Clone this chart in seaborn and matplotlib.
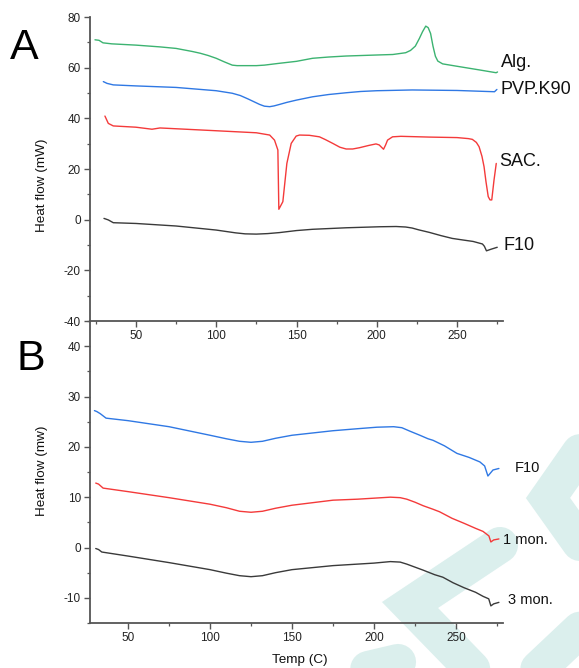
import matplotlib
matplotlib.use("Agg")
import matplotlib.pyplot as plt
from matplotlib.lines import Line2D
from matplotlib.ticker import MultipleLocator
import numpy as np
import pandas as pd
import seaborn as sns

# ─── Panel A : DSC of raw materials and F10 ───
alg_t = [24.5, 27, 29.5, 35, 50, 65, 75, 85, 90, 95, 100, 105, 110, 113, 125, 130, 139, 150, 160, 170, 181,
         200, 210, 218, 221, 224, 226.5, 228.5, 230.5, 232, 233.5, 235, 236.5, 238, 241, 249.5, 264, 274.3, 275.2]
alg_y = [71, 70.8, 69.8, 69.4, 68.9, 68.2, 67.6, 66.4, 65.7, 64.8, 63.7, 62.3, 61.0, 60.8, 60.8, 61.0, 61.7,
         62.5, 63.7, 64.2, 64.6, 65, 65.2, 65.9, 66.8, 68.5, 71.5, 74.2, 76.4, 75.8, 73.5, 68.5, 64.5, 62.6,
         61.5, 60.6, 59.1, 58, 58.3]

pvp_t = [29.7, 32, 35.9, 50, 75, 100, 110, 115, 120, 124, 127, 130, 133.3, 136, 139.5, 144, 150, 160, 170,
         181, 190, 200, 222, 250, 273.3, 274.8]
pvp_y = [54.5, 53.8, 53.2, 52.8, 52.2, 50.9, 49.9, 49.0, 47.6, 46.4, 45.5, 44.8, 44.6, 44.9, 45.5, 46.3, 47.2,
         48.5, 49.4, 50.1, 50.6, 50.9, 51.2, 51, 50.5, 51.4]

sac_t = [30.7, 32.8, 35.9, 50, 60, 65, 100, 125, 133.3, 136.3, 138.4, 139, 141.5, 144, 146.7, 149.8, 151.9,
         158, 164.3, 168, 172.6, 177, 180.9, 185, 189.2, 195, 199.5, 201.5, 202.6, 204.2, 205.5, 206.7, 209.8,
         215, 232.6, 250, 257, 259.5, 262, 263.7, 265.5, 266.8, 268, 269.4, 270.5, 271.6, 273, 274.4]
sac_y = [40.9, 38, 37, 36.5, 35.7, 36.2, 35.1, 34.3, 33.4, 31.4, 27.5, 4.1, 7.1, 22.2, 30.1, 33, 33.4,
         33.3, 32.7, 31.6, 30.1, 28.6, 27.9, 27.9, 28.4, 29.3, 29.9, 29.5, 28.8, 27.8, 29.5, 31.4, 32.7,
         32.9, 32.6, 32.4, 32.0, 31.7, 30.5, 28.8, 25.0, 20.9, 15.0, 9.1, 7.8, 7.8, 15.6, 22.2]

f10a_t = [30.1, 32.8, 35.9, 50, 75, 100, 112, 118, 125, 132, 139.4, 150, 160, 181, 201.8, 212, 218, 222, 226,
          232.6, 240, 247, 253.4, 260, 265.8, 267, 268.3, 271, 275]
f10a_y = [0.5, -0.1, -1.2, -1.5, -2.5, -4.1, -5.2, -5.6, -5.7, -5.5, -5.1, -4.3, -3.8, -3.2, -2.8, -2.7, -2.9,
          -3.3, -4.0, -5.0, -6.3, -7.4, -8.0, -8.6, -9.6, -10.5, -12.3, -11.7, -10.9]

# ─── Panel B : stability of F10 ───
f10b_t = [29.5, 31, 33, 36.6, 50, 75, 100, 110, 118, 125, 132, 140, 150, 175, 190, 201.8, 212, 217, 222,
          228, 233, 236, 243, 250.6, 258, 264.6, 267.5, 269.5, 272.6, 276.2]
f10b_y = [27.2, 27, 26.6, 25.7, 25.2, 24, 22.3, 21.6, 21.1, 20.9, 21.1, 21.7, 22.3, 23.2, 23.6, 23.9, 24,
          23.8, 23.1, 22.3, 21.6, 21.3, 20.2, 18.7, 17.9, 17, 16.2, 14.2, 15.4, 15.7]

m1_t = [30.3, 32, 34.8, 50, 75, 100, 110, 118, 125, 132, 140, 150, 175, 190, 200, 210, 216, 220, 225, 230,
        236, 240, 247.6, 255, 262, 266.5, 270.1, 271.3, 273, 276.2]
m1_y = [12.8, 12.6, 11.8, 11.1, 9.9, 8.6, 7.9, 7.2, 7.0, 7.2, 7.8, 8.4, 9.4, 9.6, 9.8, 10.0, 9.9, 9.6,
        9.0, 8.3, 7.6, 7.1, 5.8, 4.8, 3.8, 3.2, 2.3, 1.1, 1.5, 1.7]

m3_t = [30.3, 32, 34, 50, 75, 100, 110, 118, 125, 132, 140, 150, 175, 200, 210, 216, 220, 225, 230, 237,
        242, 248.2, 255, 262, 266.5, 270, 271.3, 273, 276.2]
m3_y = [-0.2, -0.4, -0.9, -1.7, -3.0, -4.4, -5.1, -5.6, -5.8, -5.6, -5.0, -4.4, -3.6, -3.1, -2.8, -2.9,
        -3.3, -3.9, -4.5, -5.4, -5.9, -7.0, -8.0, -8.9, -9.7, -10.2, -11.6, -11.2, -10.9]

GREEN = "#3cb371"
BLUE = "#2f78e4"
RED = "#f43a3a"
BLACK = "#3a3a3a"
SPINE = "#555555"


def make_df(series):
    rows = []
    for name, t, y in series:
        rows.append(pd.DataFrame({"temp": t, "hf": y, "sample": name}))
    return pd.concat(rows, ignore_index=True)


df_a = make_df([("Alg.", alg_t, alg_y), ("PVP.K90", pvp_t, pvp_y),
                ("SAC.", sac_t, sac_y), ("F10", f10a_t, f10a_y)])
df_b = make_df([("F10", f10b_t, f10b_y), ("1 mon.", m1_t, m1_y), ("3 mon.", m3_t, m3_y)])

sns.set_style("ticks")
plt.rcParams["font.family"] = ["Liberation Sans", "DejaVu Sans"]
plt.rcParams["axes.unicode_minus"] = False

fig = plt.figure(figsize=(5.79, 6.68), dpi=100)
W, H = 579, 668


def px(x, y):
    return x / W, 1 - y / H


# faint watermark behind everything
wm = "#dbefed"
for pts in [[(585, 445), (548, 498), (585, 550)],
            [(500, 545), (410, 605), (478, 675)],
            [(585, 625), (532, 675)],
            [(330, 678), (398, 662)]]:
    xs, ys = zip(*[px(*p) for p in pts])
    fig.add_artist(Line2D(xs, ys, color=wm, lw=26, solid_capstyle="round",
                          solid_joinstyle="miter", zorder=-5))

ax_a = fig.add_axes([90 / W, 1 - 321 / H, 413 / W, 304 / H])
ax_b = fig.add_axes([90 / W, 1 - 623 / H, 413 / W, 302 / H])

sns.lineplot(data=df_a, x="temp", y="hf", hue="sample", sort=False, estimator=None,
             palette={"Alg.": GREEN, "PVP.K90": BLUE, "SAC.": RED, "F10": BLACK},
             lw=1.0, legend=False, ax=ax_a)
sns.lineplot(data=df_b, x="temp", y="hf", hue="sample", sort=False, estimator=None,
             palette={"F10": BLUE, "1 mon.": RED, "3 mon.": BLACK},
             lw=1.0, legend=False, ax=ax_b)

ax_a.set_xlim(21.4, 278.6)
ax_a.set_ylim(-40, 80)
ax_a.yaxis.set_major_locator(MultipleLocator(20))
ax_a.yaxis.set_minor_locator(MultipleLocator(10))

ax_b.set_xlim(26.8, 278.7)
ax_b.set_ylim(-15, 45)
ax_b.set_yticks([-10, 0, 10, 20, 30, 40])
ax_b.yaxis.set_minor_locator(MultipleLocator(5))

for ax in (ax_a, ax_b):
    ax.set_facecolor("none")
    ax.set_xlabel("")
    ax.set_ylabel("")
    ax.set_xticks([50, 100, 150, 200, 250])
    ax.xaxis.set_minor_locator(MultipleLocator(25))
    sns.despine(ax=ax)
    for s in ("left", "bottom"):
        ax.spines[s].set_color(SPINE)
        ax.spines[s].set_linewidth(1.3)
    ax.tick_params(which="major", length=4.5, width=1.0, color=SPINE,
                   labelsize=8.5, labelcolor="#222222", pad=2)
    ax.tick_params(which="minor", length=2.5, width=0.9, color=SPINE)

# curve labels
lab = dict(fontsize=13, color="#111111", va="center", ha="left", clip_on=False)
ax_a.text(277.3, 62.2, "Alg.", **lab)
ax_a.text(277.3, 51.2, "PVP.K90", **lab)
ax_a.text(276.0, 22.8, "SAC.", **lab)
ax_a.text(279.2, -10.0, "F10", **lab)

lab_b = dict(fontsize=10.5, color="#111111", va="center", ha="left", clip_on=False)
ax_b.text(286.0, 15.8, "F10", **lab_b)
ax_b.text(278.7, 1.5, "1 mon.", **lab_b)
ax_b.text(281.7, -10.4, "3 mon.", **lab_b)

# axis titles and panel letters
fig.text(42 / W, 1 - 185 / H, "Heat flow (mW)", rotation=90, ha="center", va="center",
         fontsize=9.7, color="#111111")
fig.text(42 / W, 1 - 471 / H, "Heat flow (mw)", rotation=90, ha="center", va="center",
         fontsize=9.7, color="#111111")
fig.text(300 / W, 1 - 660 / H, "Temp (C)", ha="center", va="center", fontsize=9.7, color="#111111")
fig.text(10 / W, 1 - 59 / H, "A", ha="left", va="baseline", fontsize=31, color="#000000")
fig.text(16 / W, 1 - 370 / H, "B", ha="left", va="baseline", fontsize=31, color="#000000")

fig.savefig("out.png", dpi=100)
